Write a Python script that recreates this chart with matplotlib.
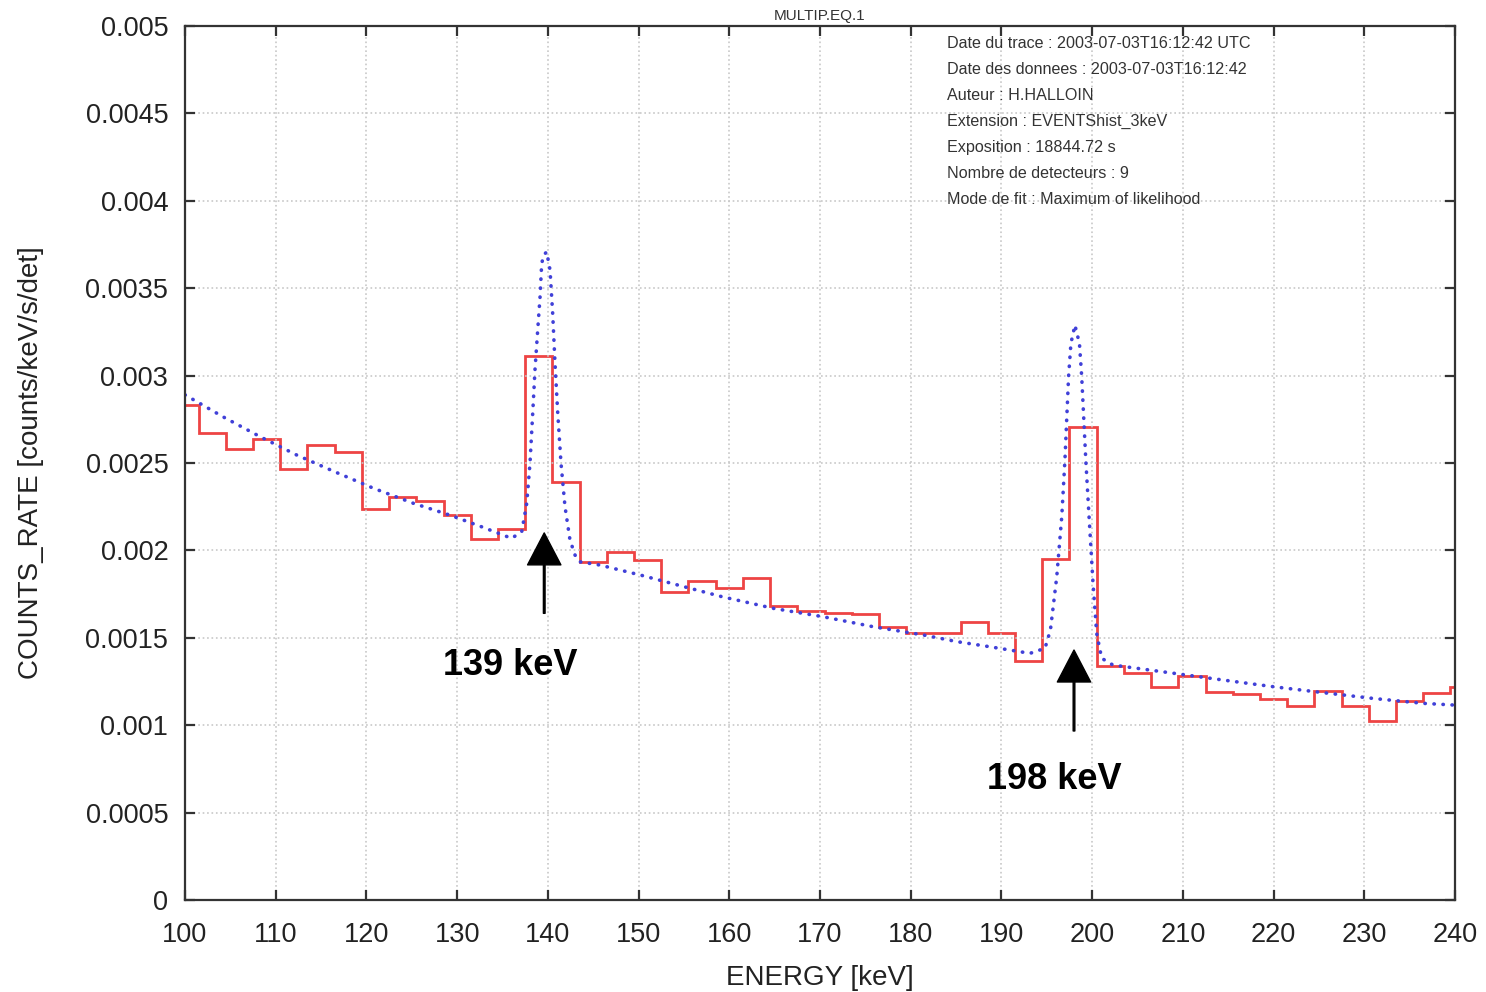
import numpy as np
import matplotlib
matplotlib.use('Agg')
import matplotlib.pyplot as plt
from matplotlib.ticker import MultipleLocator, FuncFormatter

plt.rcParams['font.family'] = ['Liberation Sans', 'DejaVu Sans']

# histogram (3 keV bins), left edges start at 98.5 keV
bin_edges = [98.5 + 3 * i for i in range(49)]
counts_rate = [0.00283, 0.00267, 0.00258, 0.002635, 0.002465, 0.002605, 0.002565,
               0.002235, 0.002305, 0.002285, 0.002205, 0.002065, 0.002125, 0.00311,
               0.00239, 0.001935, 0.00199, 0.001945, 0.00176, 0.001825, 0.001785,
               0.00184, 0.00168, 0.001655, 0.001643, 0.001636, 0.001563, 0.001525,
               0.00153, 0.001588, 0.001525, 0.001367, 0.00195, 0.002705, 0.00134,
               0.0013, 0.001217, 0.001283, 0.001188, 0.001178, 0.00115, 0.00111,
               0.001197, 0.00111, 0.001026, 0.001138, 0.001182, 0.00122]

# fitted model
model_e = [100.0, 104.2, 108.3, 112.3, 116.5, 120.8, 125.2, 129.2, 132.7, 136.0,
           137.12, 137.67, 138.03, 138.33, 138.58, 138.88, 139.14, 139.32, 139.55,
           139.87, 140.24, 140.53, 140.79, 141.09, 141.45, 141.89, 142.44, 143.0,
           143.5, 145.75, 150.2, 154.75, 159.2, 164.9, 170.4, 175.9, 181.4, 185.1,
           188.7, 193.15, 194.8, 195.4, 196.1, 196.65, 197.0, 197.4, 197.66, 198.1,
           198.6, 198.85, 199.3, 199.66, 200.1, 200.5, 201.05, 202.3, 209.0, 214.5,
           220.0, 225.5, 231.0, 236.5, 240.0]
model_v = [0.00289, 0.002764, 0.00265, 0.002546, 0.00245, 0.002355, 0.002269, 0.002202,
           0.002135, 0.002069, 0.002107, 0.002269, 0.002498, 0.002784, 0.003032, 0.00326,
           0.003451, 0.003641, 0.00369, 0.003708, 0.003604, 0.003356, 0.00307, 0.002784,
           0.002498, 0.00225, 0.002059, 0.001973, 0.001935, 0.001916, 0.001859, 0.001796,
           0.001735, 0.001668, 0.00162, 0.001563, 0.001516, 0.001478, 0.001449, 0.001411,
           0.00144, 0.001544, 0.00185, 0.002192, 0.002517, 0.002993, 0.003184, 0.003289,
           0.003184, 0.002993, 0.002517, 0.002192, 0.00181, 0.001525, 0.001383, 0.001344,
           0.001297, 0.001258, 0.00122, 0.001186, 0.001153, 0.001125, 0.001115]

# line annotations: energy, arrow tip, arrow tail, label x, label y
lines = [('139 keV', 139.6, 0.0021, 0.00164, 135.8, 0.001344),
         ('198 keV', 198.0, 0.00143, 0.000967, 195.8, 0.000692)]

info = ['Date du trace : 2003-07-03T16:12:42 UTC',
        'Date des donnees : 2003-07-03T16:12:42',
        'Auteur : H.HALLOIN',
        'Extension : EVENTShist_3keV',
        'Exposition : 18844.72 s',
        'Nombre de detecteurs : 9',
        'Mode de fit : Maximum of likelihood']

fig = plt.figure(figsize=(14.86, 9.92), dpi=100)
ax = fig.add_axes([185 / 1486, 92 / 992, 1270 / 1486, 874 / 992])

ax.stairs(counts_rate, bin_edges, baseline=None, color='#ee4444', lw=2.0)
ax.plot(model_e, model_v, color='#4040d8', lw=2.6, linestyle=(0, (0.1, 2.4)),
        dash_capstyle='round')

ax.set_xlim(100, 240)
ax.set_ylim(0, 0.005)
ax.xaxis.set_major_locator(MultipleLocator(10))
ax.yaxis.set_major_locator(MultipleLocator(0.0005))
ax.yaxis.set_major_formatter(FuncFormatter(lambda v, p: '%g' % round(v, 6)))
ax.grid(True, color='#c8c8c8', linestyle=':', lw=1.2)
ax.tick_params(axis='both', direction='in', length=7, width=1.6, color='#333333',
               top=True, right=True, labelsize=19.5, labelcolor='#222222')
ax.tick_params(axis='y', pad=12)
ax.tick_params(axis='x', pad=16)
for s in ax.spines.values():
    s.set_color('#333333')
    s.set_linewidth(1.6)

ax.set_xlabel('ENERGY [keV]', fontsize=20, color='#222222', labelpad=12)
ax.set_ylabel('COUNTS_RATE [counts/keV/s/det]', fontsize=20, color='#222222', labelpad=30)
ax.set_title('MULTIP.EQ.1', fontsize=11, color='#333333', pad=4)

for label, x, tip, tail, lx, ly in lines:
    ax.annotate('', xy=(x, tip), xytext=(x, tail),
                arrowprops=dict(facecolor='black', edgecolor='black', width=1.2,
                                headwidth=24, headlength=23))
    ax.text(lx, ly, label, fontsize=26, fontweight='bold', ha='center', va='center')

for i, t in enumerate(info):
    ax.text(0.6, 0.9805 - i * 26 / 874, t, transform=ax.transAxes, fontsize=11.6,
            color='#333333', va='center', ha='left')

fig.savefig('out.png', dpi=100)
